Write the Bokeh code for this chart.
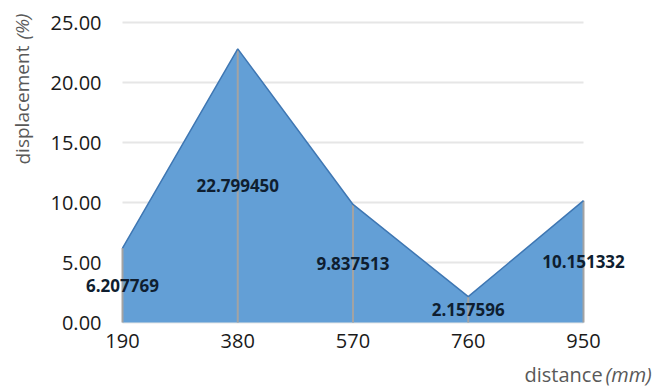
from bokeh.plotting import figure
from bokeh.models import Range1d, FixedTicker, NumeralTickFormatter, Label, ColumnDataSource, LinearAxis
from bokeh.core.properties import value
from bokeh.embed import file_html
from bokeh.resources import INLINE

distance = [190, 380, 570, 760, 950]
tick_labels = ["190", "380", "570", "760", "950"]
displacement = [6.207769, 22.799450, 9.837513, 2.157596, 10.151332]
y_ticks = [0, 5, 10, 15, 20, 25]

W, H = 669, 388
# plot area in pixels: x 122..583, y 22..322
px_x = (583 - 122) / (distance[-1] - distance[0])
px_y = (322 - 22) / (y_ticks[-1] - y_ticks[0])
x0 = distance[0] - 122 / px_x
x1 = distance[-1] + (W - 583) / px_x
y0 = y_ticks[0] - (H - 322) / px_y
y1 = y_ticks[-1] + 22 / px_y

p = figure(width=W, height=H, output_backend="svg", toolbar_location=None,
           x_range=Range1d(x0, x1), y_range=Range1d(y0, y1),
           x_axis_type=None, y_axis_type=None,
           min_border=0)
p.outline_line_color = None
p.background_fill_color = "white"
p.border_fill_color = "white"
p.xgrid.grid_line_color = None
p.ygrid.grid_line_color = None

# axes placed at the plot-area edges
yax = LinearAxis(fixed_location=distance[0], ticker=FixedTicker(ticks=y_ticks),
                 formatter=NumeralTickFormatter(format="0.00"))
xax = LinearAxis(fixed_location=y_ticks[0], ticker=FixedTicker(ticks=distance),
                 major_label_overrides={d: t for d, t in zip(distance, tick_labels)})
for ax in (xax, yax):
    ax.axis_line_color = None
    ax.major_tick_line_color = None
    ax.minor_tick_line_color = None
    ax.major_tick_out = 0
    ax.major_tick_in = 0
    ax.major_label_text_font = "Open Sans"
    ax.major_label_text_font_size = "20px"
    ax.major_label_text_color = "#1a1a1a"
yax.major_label_standoff = 21
xax.major_label_standoff = 11
p.add_layout(yax, "left")
p.add_layout(xax, "below")

# horizontal gridlines across the plot area
p.segment(x0=[distance[0]] * len(y_ticks), x1=[distance[-1]] * len(y_ticks),
          y0=y_ticks, y1=y_ticks, line_color="#e6e6e6", line_width=2)

src = ColumnDataSource(dict(
    x=distance,
    y=displacement,
    half=[v / 2 for v in displacement],
    txt=[f"{v:.6f}" for v in displacement],
    zero=[0] * len(distance),
))

p.varea(x="x", y1="zero", y2="y", source=src, fill_color="#639fd6", fill_alpha=1.0)
p.segment(x0="x", y0="zero", x1="x", y1="y", source=src, line_color="#a3a3a3", line_width=2)
p.line(x="x", y="y", source=src, line_color="#3f77b3", line_width=1.5)

p.text(x="x", y="half", text="txt", source=src, text_font=value("Open Sans"),
       text_font_style="bold", text_font_size="17px", text_color="#0f1e30",
       text_align="center", text_baseline="middle")

# axis titles
p.add_layout(Label(x=22, y=H - 164, x_units="screen", y_units="screen",
                   text="displacement", angle=1.5708, text_font="Open Sans",
                   text_font_size="19px", text_color="#595959",
                   text_baseline="middle", text_align="left"))
p.add_layout(Label(x=22, y=H - 39, x_units="screen", y_units="screen",
                   text="(%)", angle=1.5708, text_font="Open Sans",
                   text_font_size="19px", text_font_style="italic", text_color="#595959",
                   text_baseline="middle", text_align="left"))
p.add_layout(Label(x=524, y=14, x_units="screen", y_units="screen",
                   text="distance", text_font="Open Sans",
                   text_font_size="20px", text_color="#595959",
                   text_baseline="middle", text_align="left"))
p.add_layout(Label(x=605, y=14, x_units="screen", y_units="screen",
                   text="(mm)", text_font="Open Sans", text_font_style="italic",
                   text_font_size="20px", text_color="#595959",
                   text_baseline="middle", text_align="left"))

open("out.html", "w").write(file_html(p, INLINE))
